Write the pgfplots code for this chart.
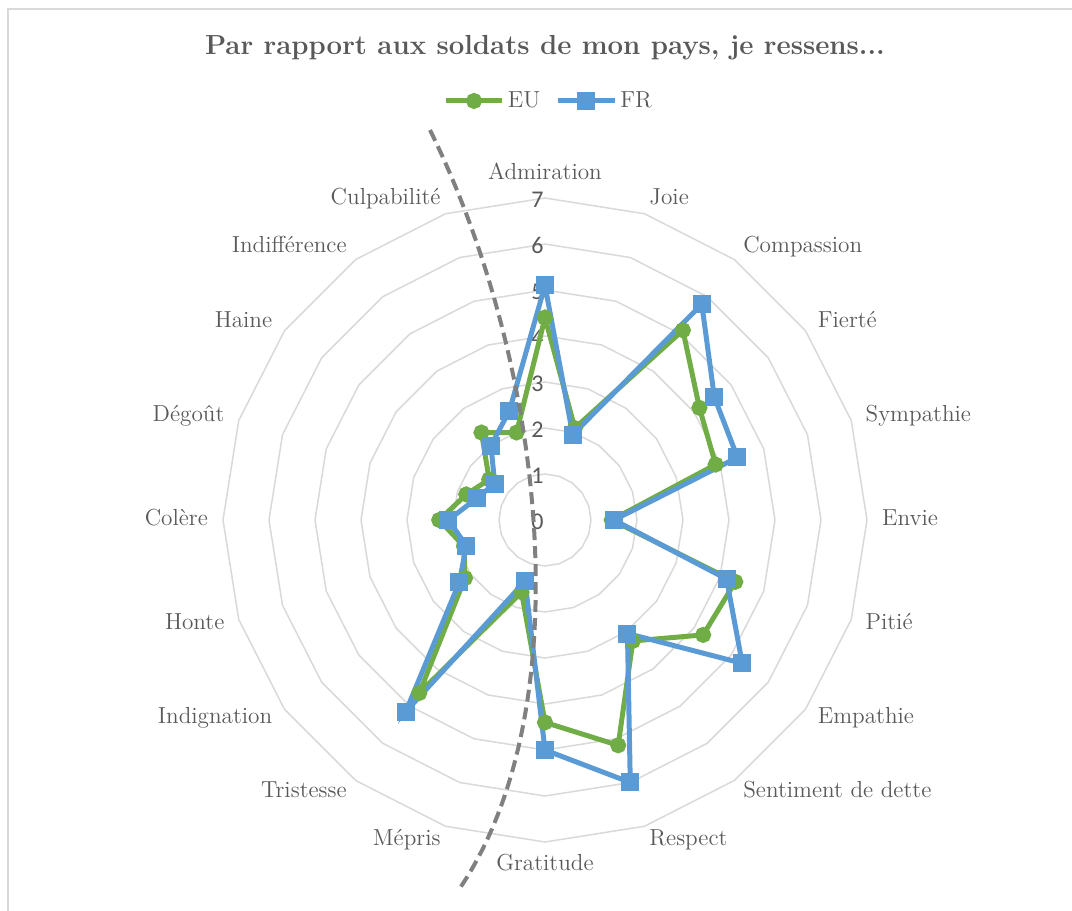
\documentclass[border=0pt]{standalone}
\usepackage{fontspec}
\newfontfamily\carlito{Carlito}
\usepackage{pgfplots}
\usepgfplotslibrary{polar}
\pgfplotsset{compat=1.18}
\usepackage{pgfplotstable}

\definecolor{eu}{HTML}{70AD47}
\definecolor{fr}{HTML}{5B9BD5}
\definecolor{gridc}{HTML}{D9D9D9}
\definecolor{txt}{HTML}{595959}
\definecolor{dashc}{HTML}{808080}

% angle (clockwise from the top), EU, FR
\pgfplotstableread{
ang eu fr
90 4.4 5.1
72 2.1 1.95
54 5.1 5.8
36 4.15 4.55
18 3.9 4.4
0 1.45 1.5
342 4.35 4.15
324 4.25 5.3
306 3.25 3.05
288 5.15 6.0
270 4.4 5.0
252 1.65 1.4
234 4.65 5.15
216 2.15 2.3
198 1.85 1.8
180 2.3 2.1
162 1.8 1.55
144 1.5 1.35
126 2.35 2.0
108 2.0 2.5
90 4.4 5.1
}\emotions

% category label: angle, anchor, text
\newcommand\lab[3]{%
  \node[anchor=#2, inner sep=0pt, text height=1.6ex, text depth=0.4ex,
        font=\fontsize{11.6}{13}\selectfont, text=txt] at (axis cs:#1,7.32) {#3};}

\begin{document}
\begin{tikzpicture}
\begin{polaraxis}[
    name=ax, at={(0,0)}, anchor=center,
    scale only axis, width=322pt, height=322pt,
    ymin=0, ymax=7, ytick=\empty, xtick=\empty,
    axis line style={draw=none},
    major tick length=0pt,
    grid=none,
    clip=false,
    legend columns=2,
    legend image code/.code={%
      \draw[mark repeat=2, mark phase=2] plot coordinates {(0cm,0cm) (0.5cm,0cm) (1cm,0cm)};},
    legend style={at={(axis cs:90,9.11)}, anchor=center, xshift=2pt, draw=none, fill=none,
        font=\fontsize{11.6}{13}\selectfont, text=txt,
        nodes={inner xsep=1.5pt},
        /tikz/every even column/.append style={column sep=6pt}},
]
\pgfplotsinvokeforeach{1,...,7}{
  \addplot[gridc, line width=0.75pt, forget plot] table[x=ang, y expr=#1] {\emotions};
}
\pgfplotsinvokeforeach{0,...,7}{
  \node[font=\carlito\fontsize{12}{14}\selectfont, text=txt, anchor=east, inner sep=0pt,
        xshift=-0.5pt, yshift=-0.75pt] at (axis cs:90,#1) {#1};
}
\lab{90}{south}{Admiration}
\lab{72}{west}{Joie}
\lab{54}{west}{Compassion}
\lab{36}{west}{Fierté}
\lab{18}{west}{Sympathie}
\lab{0}{west}{Envie}
\lab{342}{west}{Pitié}
\lab{324}{west}{Empathie}
\lab{306}{west}{Sentiment de dette}
\lab{288}{west}{Respect}
\lab{270}{north}{Gratitude}
\lab{252}{east}{Mépris}
\lab{234}{east}{Tristesse}
\lab{216}{east}{Indignation}
\lab{198}{east}{Honte}
\lab{180}{east}{Colère}
\lab{162}{east}{Dégoût}
\lab{144}{east}{Haine}
\lab{126}{east}{Indifférence}
\lab{108}{east}{Culpabilité}
\addplot[eu, line width=2.5pt, mark=*, mark size=2.75pt] table[x=ang, y=eu] {\emotions};
\addplot[fr, line width=2.5pt, mark=square*, mark size=3.25pt] table[x=ang, y=fr] {\emotions};
\legend{EU, FR}
\coordinate (O) at (axis cs:0,0);
\end{polaraxis}

\begin{scope}[shift={(O)}, x=0.5pt, y=-0.5pt, shift={(-545,-520)}]
  \node[font=\bfseries\fontsize{13.8}{16}\selectfont, text=txt] at (545,48)
    {Par rapport aux soldats de mon pays, je ressens...};
  \draw[dashc, line width=2pt, dash pattern=on 6pt off 3pt]
    (430,130) .. controls (548,370) and (580,710) .. (460,888);
  \draw[gridc, line width=1pt] (8,911) -- (8,9) -- (1072,9);
  \pgfresetboundingbox
  \path (0,0) rectangle (1072,911);
\end{scope}
\end{tikzpicture}
\end{document}
